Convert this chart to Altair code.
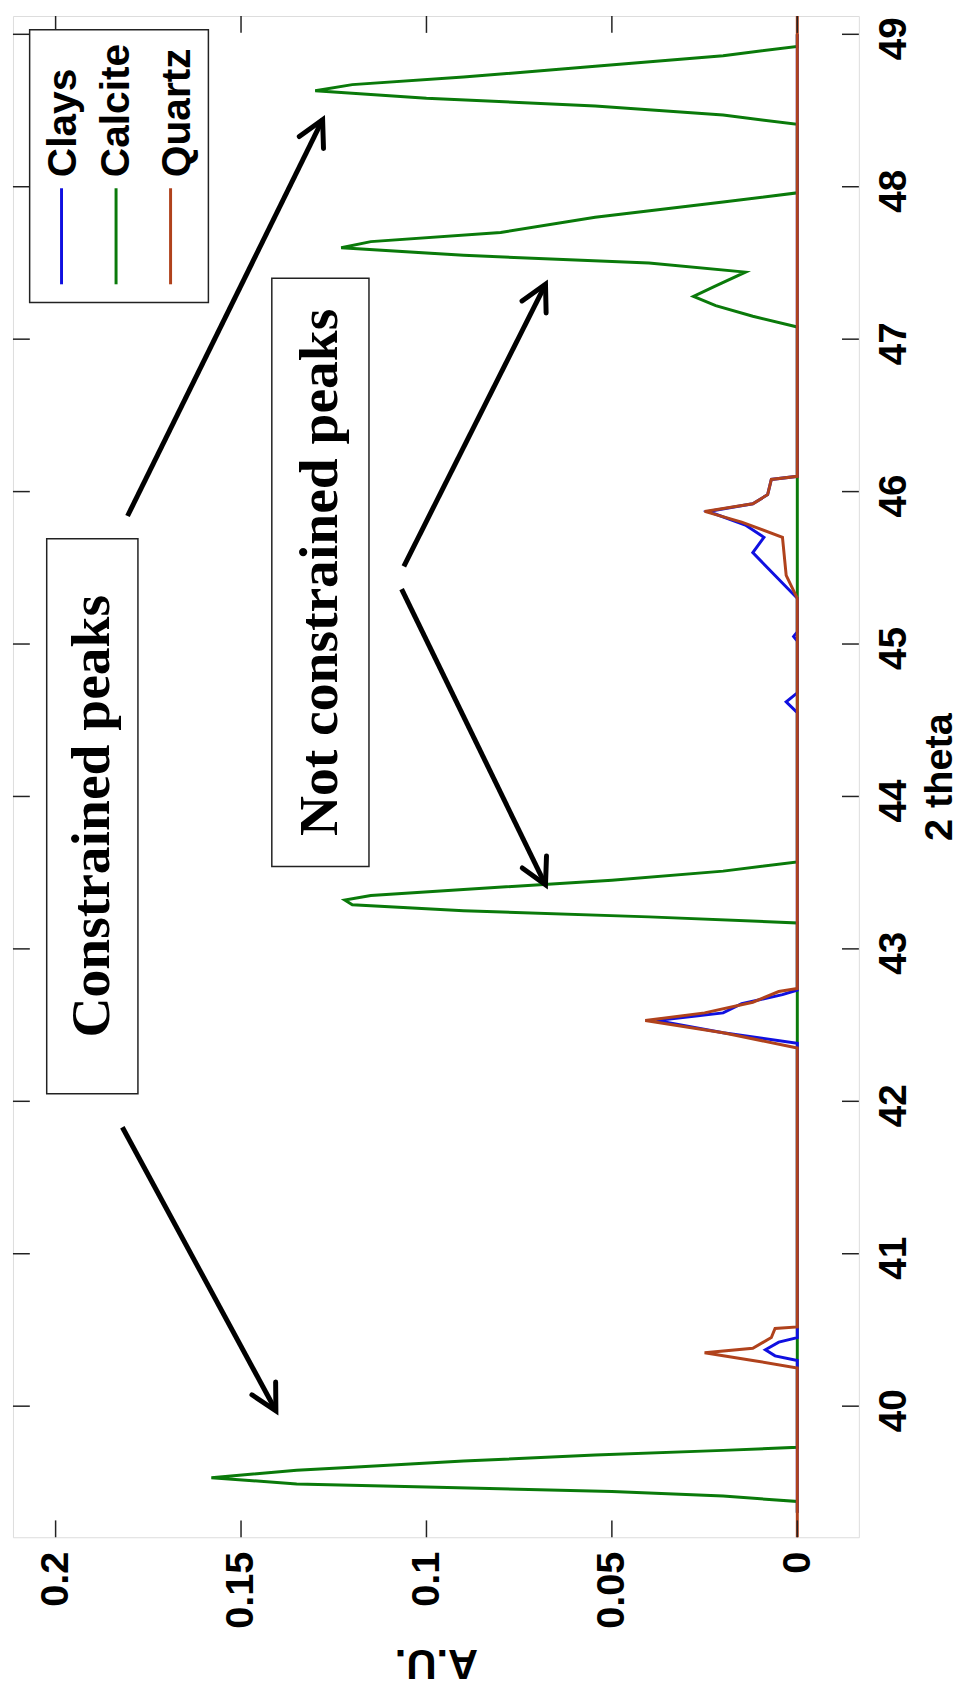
import math
import altair as alt
import pandas as pd

# ---------------- data ----------------
series_names = ["Clays", "Calcite", "Quartz"]
series_colors = ["#1010e0", "#0a7a0a", "#b0421c"]

calcite_2theta = [39.30, 39.375, 39.41, 39.44, 39.47, 39.49, 39.53, 39.58, 39.60, 39.64, 39.68, 39.71, 39.73,
                  43.17, 43.21, 43.25, 43.29, 43.32, 43.35, 43.39, 43.45, 43.51, 43.57,
                  47.08, 47.15, 47.22, 47.28, 47.35, 47.44, 47.50, 47.55, 47.60, 47.64, 47.70, 47.80, 47.90, 47.96,
                  48.41, 48.47, 48.53, 48.58, 48.63, 48.67, 48.72, 48.79, 48.86, 48.92, 49.00]
calcite_au = [0.0, 0.0, 0.02, 0.05, 0.10, 0.135, 0.158, 0.135, 0.12, 0.09, 0.0545, 0.02, 0.0,
              0.0, 0.04, 0.09, 0.12, 0.122, 0.115, 0.09, 0.05, 0.02, 0.0,
              0.0, 0.012, 0.022, 0.028, 0.022, 0.014, 0.04, 0.09, 0.123, 0.115, 0.08, 0.0545, 0.02, 0.0,
              0.0, 0.02, 0.0545, 0.10, 0.130, 0.12, 0.09, 0.0545, 0.02, 0.0, 0.0]

clays_2theta = [39.30, 40.30, 40.33, 40.37, 40.42, 40.45,
                42.38, 42.45, 42.53, 42.58, 42.64, 42.70, 42.73,
                44.55, 44.62, 44.68, 45.02, 45.05, 45.08,
                45.30, 45.45, 45.60, 45.70, 45.78, 45.87, 45.92, 45.98, 46.08, 46.10, 49.00]
clays_au = [0.0, 0.0, 0.006, 0.0086, 0.005, 0.0,
            0.0, 0.02, 0.038, 0.02, 0.015, 0.004, 0.0,
            0.0, 0.003, 0.0, 0.0, 0.001, 0.0,
            0.0, 0.006, 0.012, 0.009, 0.014, 0.024, 0.012, 0.008, 0.007, 0.0, 0.0]

quartz_2theta = [39.10, 40.25, 40.30, 40.35, 40.38, 40.45, 40.51, 40.52,
                 42.35, 42.45, 42.53, 42.58, 42.65, 42.72, 42.74,
                 45.30, 45.45, 45.70, 45.80, 45.87, 45.92, 45.98, 46.08, 46.10, 49.20]
quartz_au = [0.0, 0.0, 0.012, 0.025, 0.012, 0.007, 0.006, 0.0,
             0.0, 0.02, 0.041, 0.025, 0.012, 0.005, 0.0,
             0.0, 0.003, 0.004, 0.015, 0.025, 0.012, 0.008, 0.007, 0.0, 0.0]

au_ticks = [0, 0.05, 0.1, 0.15, 0.2]
theta_ticks = [40, 41, 42, 43, 44, 45, 46, 47, 48, 49]

au_domain = [-0.0166, 0.2115]
theta_domain = [39.14, 49.12]

# annotation boxes (AU left, AU right, 2theta low, 2theta high) and texts
box_texts = ["Constrained peaks", "Not constrained peaks"]
box_au1 = [0.2024, 0.1417]
box_au2 = [0.1778, 0.1155]
box_t1 = [42.05, 43.54]
box_t2 = [45.69, 47.40]

# arrows: start (AU, 2theta) -> end (AU, 2theta)
arrow_au1 = [0.1806, 0.182, 0.1061, 0.1067]
arrow_t1 = [45.84, 41.83, 45.51, 45.36]
arrow_au2 = [0.128, 0.1406, 0.0679, 0.0679]
arrow_t2 = [48.44, 39.97, 47.36, 43.42]

# legend geometry (data coords)
legend_box = dict(au1=0.2070, au2=0.1588, t1=47.24, t2=49.03)
legend_line_au = [0.1984, 0.1837, 0.169]
legend_text_au = [0.1976, 0.1834, 0.1671]
legend_line_t = [47.36, 47.99]
legend_text_t = 48.063

# ---------------- build ----------------
W, H = 853, 1534
px_per_au = W / (au_domain[1] - au_domain[0])
px_per_t = H / (theta_domain[1] - theta_domain[0])

rows = []
for name, tt, aa in [("Calcite", calcite_2theta, calcite_au),
                     ("Clays", clays_2theta, clays_au),
                     ("Quartz", quartz_2theta, quartz_au)]:
    for i, (t, a) in enumerate(zip(tt, aa)):
        rows.append({"series": name, "theta": t, "au": a, "idx": i})
df = pd.DataFrame(rows)

xs = alt.Scale(domain=au_domain, reverse=True, nice=False, zero=False)
ys = alt.Scale(domain=theta_domain, nice=False, zero=False)
cs = alt.Scale(domain=series_names, range=series_colors)

FONT = "Liberation Sans"

base_x = alt.X("au:Q", scale=xs, title="A.U.",
               axis=alt.Axis(orient="bottom", values=au_ticks, format="~g", ticks=False, domain=False,
                             grid=False, labelAngle=270, labelAlign="right", labelBaseline="middle",
                             labelPadding=14, labelFont=FONT, labelFontSize=40, labelFontWeight="bold",
                             labelColor="black", titleFont=FONT, titleFontSize=42, titleFontWeight="bold",
                             titleAngle=180, titleBaseline="alphabetic", titleAlign="center",
                             titleX=W / 2, titleY=113, titleColor="black"))
base_y = alt.Y("theta:Q", scale=ys, title="2 theta",
               axis=alt.Axis(orient="right", values=theta_ticks, format="d", ticks=False, domain=False,
                             grid=False, labelAngle=270, labelAlign="center", labelBaseline="top",
                             labelPadding=16, labelOffset=4, labelFont=FONT, labelFontSize=39,
                             labelFontWeight="bold", labelColor="black",
                             titleFont=FONT, titleFontSize=40, titleFontWeight="bold",
                             titleAngle=270, titleBaseline="alphabetic", titleAlign="center",
                             titleX=93, titleY=H / 2, titleColor="black"))

layers = []
for name in ["Calcite", "Clays", "Quartz"]:
    layers.append(
        alt.Chart(df[df.series == name]).mark_line(strokeWidth=3, clip=True).encode(
            x=base_x, y=base_y,
            color=alt.Color("series:N", scale=cs, legend=None),
            order=alt.Order("idx:Q"),
        )
    )

# inward ticks on all four sides
tl_t = 17 / px_per_t
tl_a = 17 / px_per_au
tick_rows = []
for v in au_ticks:
    tick_rows.append({"a1": v, "a2": v, "t1": theta_domain[0], "t2": theta_domain[0] + tl_t})
    tick_rows.append({"a1": v, "a2": v, "t1": theta_domain[1] - tl_t, "t2": theta_domain[1]})
for v in theta_ticks:
    tick_rows.append({"a1": au_domain[0], "a2": au_domain[0] + tl_a, "t1": v, "t2": v})
    tick_rows.append({"a1": au_domain[1] - tl_a, "a2": au_domain[1], "t1": v, "t2": v})
ticks = alt.Chart(pd.DataFrame(tick_rows)).mark_rule(color="#222", strokeWidth=1.5).encode(
    x=alt.X("a1:Q", scale=xs), x2="a2:Q", y=alt.Y("t1:Q", scale=ys), y2="t2:Q")

# annotation boxes
bdf = pd.DataFrame({"txt": box_texts, "a1": box_au1, "a2": box_au2, "t1": box_t1, "t2": box_t2})
bdf["ac"] = (bdf.a1 + bdf.a2) / 2
bdf["tc"] = (bdf.t1 + bdf.t2) / 2
boxes = alt.Chart(bdf).mark_rect(fill="white", stroke="#222", strokeWidth=1.5).encode(
    x=alt.X("a1:Q", scale=xs), x2="a2:Q", y=alt.Y("t1:Q", scale=ys), y2="t2:Q")
box_txt = alt.Chart(bdf).mark_text(font="Liberation Serif", fontSize=56, fontWeight="bold", angle=270,
                                   align="center", baseline="middle", color="black").encode(
    x=alt.X("ac:Q", scale=xs), y=alt.Y("tc:Q", scale=ys), text="txt:N")

# arrows
adf = pd.DataFrame({"a1": arrow_au1, "t1": arrow_t1, "a2": arrow_au2, "t2": arrow_t2})
angs = []
for a1, t1, a2, t2 in zip(arrow_au1, arrow_t1, arrow_au2, arrow_t2):
    dx = -(a2 - a1) * px_per_au
    dy = -(t2 - t1) * px_per_t
    angs.append(math.degrees(math.atan2(dx, -dy)) % 360)
adf["ang"] = angs
shafts = alt.Chart(adf).mark_rule(color="black", strokeWidth=5).encode(
    x=alt.X("a1:Q", scale=xs), x2="a2:Q", y=alt.Y("t1:Q", scale=ys), y2="t2:Q")
heads = alt.Chart(adf).mark_point(shape="M -0.53 1 L 0 0 L 0.53 1", filled=False, color="black",
                                  strokeWidth=5, size=2630, opacity=1, strokeCap="round",
                                  strokeJoin="miter").encode(
    x=alt.X("a2:Q", scale=xs), y=alt.Y("t2:Q", scale=ys), angle=alt.Angle("ang:Q", scale=None))

# legend
lb = pd.DataFrame([legend_box])
leg_box = alt.Chart(lb).mark_rect(fill="white", stroke="#222", strokeWidth=1.5).encode(
    x=alt.X("au1:Q", scale=xs), x2="au2:Q", y=alt.Y("t1:Q", scale=ys), y2="t2:Q")
ldf = pd.DataFrame({"series": series_names, "la": legend_line_au, "ta": legend_text_au,
                    "lt1": [legend_line_t[0]] * 3, "lt2": [legend_line_t[1]] * 3,
                    "tt": [legend_text_t] * 3})
leg_lines = alt.Chart(ldf).mark_rule(strokeWidth=3).encode(
    x=alt.X("la:Q", scale=xs), y=alt.Y("lt1:Q", scale=ys), y2="lt2:Q",
    color=alt.Color("series:N", scale=cs, legend=None))
leg_text = alt.Chart(ldf).mark_text(font=FONT, fontSize=41, fontWeight="bold", angle=270,
                                    align="left", baseline="middle", color="black").encode(
    x=alt.X("ta:Q", scale=xs), y=alt.Y("tt:Q", scale=ys), text="series:N")

chart = alt.layer(*layers, ticks, shafts, heads, boxes, box_txt, leg_box, leg_lines, leg_text).properties(
    width=W, height=H,
    autosize=alt.AutoSizeParams(type="none"),
    padding={"left": 5, "top": 1, "right": 104, "bottom": 154},
).configure_view(stroke="#333", strokeWidth=2).configure(background="white")

chart.save("out.html", embed_options={"renderer": "svg", "actions": False})
